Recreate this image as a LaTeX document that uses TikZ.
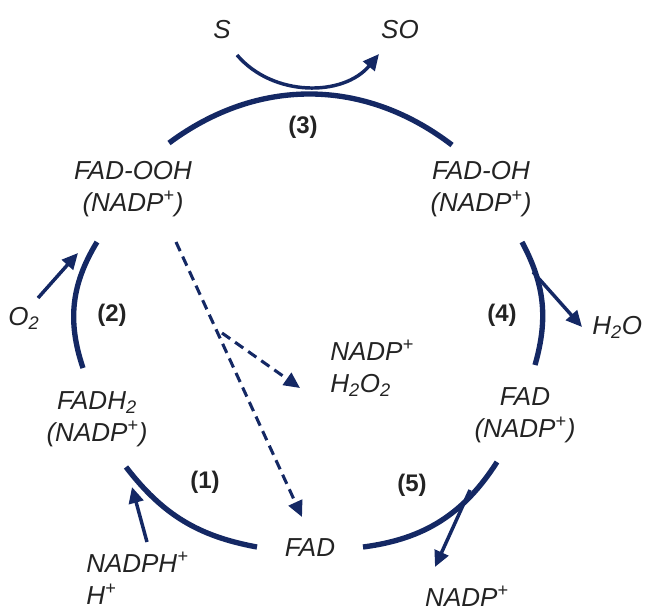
\documentclass[tikz,border=0pt]{standalone}
\usepackage{fontspec}
\setmainfont{Liberation Sans}
\usetikzlibrary{arrows.meta}
\definecolor{arcblue}{RGB}{20,40,100}
\definecolor{txtgray}{RGB}{35,35,35}
\tikzset{species/.style={font=\fontsize{19.5}{24}\selectfont\itshape,text=txtgray,align=center,inner sep=0pt},
	stepnum/.style={font=\fontsize{18}{22}\selectfont\bfseries,text=txtgray,inner sep=0pt},
	cyclearc/.style={draw=arcblue,line width=4pt},
	sidearrow/.style={draw=arcblue,line width=2.6pt,-{Triangle[length=12pt,width=11pt]}},
	leak/.style={draw=arcblue,line width=2.3pt,dash pattern=on 7.5pt off 4.5pt,-{Triangle[length=12pt,width=11pt]}}}

\begin{document}
\begin{tikzpicture}[x=0.75pt,y=-0.75pt]
	\useasboundingbox (0,0) rectangle (653,612);
	\begin{scope}[every node/.style={species}]
		\node (S) at (222,30) {S};
		\node (SO) at (400,30) {SO};
		\node (FADOOH) at (133,189) {FAD-OOH\\(NADP\textsuperscript{+})};
		\node (FADOH) at (481,189) {FAD-OH\\(NADP\textsuperscript{+})};
		\node (FADH) at (97,419) {FADH\textsubscript{2}\\(NADP\textsuperscript{+})};
		\node (FADN) at (525,415) {FAD\\(NADP\textsuperscript{+})};
		\node (FAD) at (310,548) {FAD};
		\node (O2) at (24,318) {O\textsubscript{2}};
		\node[anchor=west] (H2O) at (592,327) {H\textsubscript{2}O};
		\node[anchor=west,align=left] (HOO) at (330,368) {NADP\textsuperscript{+}\\H\textsubscript{2}O\textsubscript{2}};
		\node[anchor=west,align=left] (NADPH) at (86,578) {NADPH\textsuperscript{+}\\H\textsuperscript{+}};
		\node (NADP) at (467,596) {NADP\textsuperscript{+}};
	\end{scope}
	\begin{scope}[every node/.style={stepnum}]
		\node (r1) at (205,482) {(1)};
		\node (r2) at (112,315) {(2)};
		\node (r3) at (303,127) {(3)};
		\node (r4) at (502,315) {(4)};
		\node (r5) at (412,485) {(5)};
	\end{scope}
	% ends of the arcs
	\coordinate (a3s) at (169,143);
	\coordinate (a3e) at (452,145);
	\coordinate (a2s) at (83,368);
	\coordinate (a2e) at (97,242);
	\coordinate (a4s) at (522,242);
	\coordinate (a4e) at (535,365);
	\coordinate (a1s) at (126,467);
	\coordinate (a1e) at (257,547);
	\coordinate (a5s) at (363,547);
	\coordinate (a5e) at (497,462);
	\coordinate (sIn) at (237,55);
	\coordinate (sOut) at (379,54);
	\coordinate (o2s) at (38,298);
	\coordinate (o2e) at (78,253);
	\coordinate (nhs) at (147,542);
	\coordinate (nhe) at (132,487);
	\coordinate (h2s) at (533,272);
	\coordinate (h2e) at (582,327);
	\coordinate (nps) at (470,490);
	\coordinate (npe) at (435,567);
	\coordinate (ls) at (176,242);
	\coordinate (le) at (302,517);
	\coordinate (bs) at (222,333);
	\coordinate (be) at (300,388);
	\begin{scope}[every edge/.style={cyclearc}]
		\path (a3s) edge[bend left=37] (a3e);
		\path (a2s) edge[bend left=25] (a2e);
		\path (a4s) edge[bend left=22] (a4e);
		\path (a1s) edge[bend right=21] (a1e);
		\path (a5s) edge[bend right=25] (a5e);
	\end{scope}
	\begin{scope}[every edge/.style={sidearrow}]
		\path (sIn) edge[bend right=50] (sOut);
		\path (o2s) edge (o2e);
		\path (nhs) edge (nhe);
		\path (h2s) edge (h2e);
		\path (nps) edge (npe);
	\end{scope}
	\begin{scope}[every edge/.style={leak}]
		\path (ls) edge (le);
		\path (bs) edge (be);
	\end{scope}
\end{tikzpicture}
\end{document}
